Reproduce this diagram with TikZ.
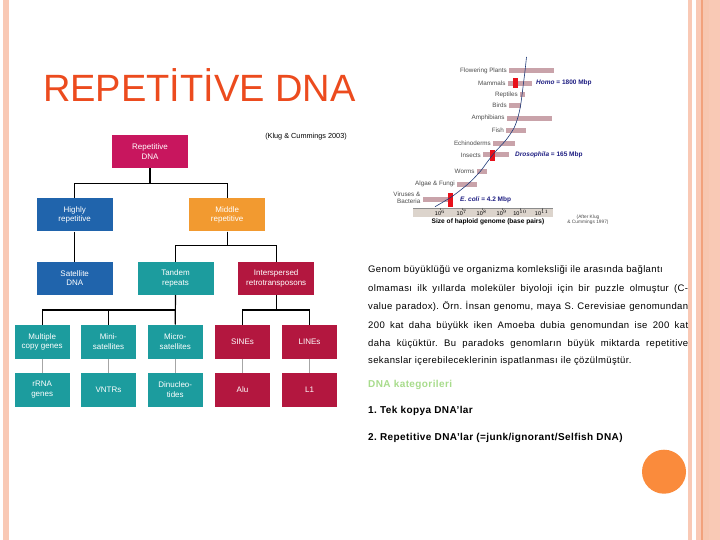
\documentclass[tikz,border=0pt]{standalone}
\usepackage{fontspec}
\setmainfont{Liberation Sans}
\newfontfamily\bodyfont[LetterSpace=4]{Liberation Sans}
\usetikzlibrary{positioning}
\frenchspacing

\definecolor{titleorange}{HTML}{EC4B1E}
\definecolor{repmag}{HTML}{C8165E}
\definecolor{hiblue}{HTML}{2064AC}
\definecolor{midorange}{HTML}{F29A30}
\definecolor{tealc}{HTML}{1C9C9E}
\definecolor{crimson}{HTML}{B3173F}
\definecolor{barpink}{HTML}{C9A3AA}
\definecolor{markred}{HTML}{E8101A}
\definecolor{curveblue}{HTML}{1E3A78}
\definecolor{navytext}{HTML}{1E1E82}
\definecolor{axisband}{HTML}{DCD4CC}
\definecolor{kategreen}{HTML}{A8DC8C}
\definecolor{peach}{HTML}{F9C9B5}
\definecolor{peachdark}{HTML}{F2A27C}
\definecolor{circorange}{HTML}{FA8B3C}

\tikzset{
  dnabox/.style={text=white, minimum width=76pt, minimum height=33pt, align=center,
    inner sep=1pt, font=\fontsize{8}{9.5}\selectfont},
  smallbox/.style={dnabox, minimum width=55pt, minimum height=34pt},
  tree/.style={line width=1.2pt, black},
  leaf/.style={line width=0.8pt, black!35},
  chartlbl/.style={anchor=east, inner sep=0.5pt, text=black!70,
    font=\fontsize{6.3}{6.8}\selectfont},
  species/.style={anchor=west, inner sep=0pt, text=navytext,
    font=\bfseries\fontsize{6.5}{7}\selectfont},
  bodyline/.style={anchor=base west, inner sep=0pt, font=\bodyfont\fontsize{9.5}{10}\selectfont},
  katline/.style={anchor=base west, inner sep=0pt, font=\bodyfont\bfseries\fontsize{10}{11}\selectfont},
}

\begin{document}
\begin{tikzpicture}[x=1pt, y=-1pt]
  \useasboundingbox (0,0) rectangle (720,540);
  \fill[white] (0,0) rectangle (720,540);

  % page border stripes
  \fill[peach] (3,0) rectangle (9,540);
  \fill[peach] (688,0) rectangle (692,540);
  \fill[peach] (696,0) rectangle (720,540);
  \fill[peachdark!60] (701,0) rectangle (709,540);
  \fill[peachdark] (701,0) rectangle (703,540);

  % title
  \node[anchor=base west, inner sep=0pt, text=titleorange,
    font=\fontsize{38}{42}\selectfont] (title) at (43,102) {REPETİTİVE DNA};

  % classification tree
  \node[dnabox, fill=repmag] (rep) at (150,151.5) {Repetitive\\DNA};
  \node[dnabox, fill=hiblue] (high) at (74.7,215) {Highly\\repetitive};
  \node[dnabox, fill=midorange] (mid) at (227.2,215) {Middle\\repetitive};
  \node[dnabox, fill=hiblue] (sat) at (74.7,278.3) {Satellite\\DNA};
  \node[dnabox, fill=tealc] (tand) at (175.5,278.3) {Tandem\\repeats};
  \node[dnabox, fill=crimson] (inter) at (276.2,278.3) {Interspersed\\retrotransposons};

  \node[smallbox, fill=tealc] (multi) at (42.2,341.7) {Multiple\\copy genes};
  \node[smallbox, fill=tealc] (mini) at (108.5,341.7) {Mini-\\satellites};
  \node[smallbox, fill=tealc] (micro) at (175.2,341.7) {Micro-\\satellites};
  \node[smallbox, fill=crimson] (sine) at (242.5,341.7) {SINEs};
  \node[smallbox, fill=crimson] (line) at (309.5,341.7) {LINEs};

  \node[smallbox, fill=tealc] (rrna) at (42.2,389.7) {rRNA\\genes};
  \node[smallbox, fill=tealc] (vntr) at (108.5,389.7) {VNTRs};
  \node[smallbox, fill=tealc] (dinuc) at (175.2,389.7) {Dinucleo-\\tides};
  \node[smallbox, fill=crimson] (alu) at (242.5,389.7) {Alu};
  \node[smallbox, fill=crimson] (lone) at (309.5,389.7) {L1};

  \draw[tree] (rep.south) -- ++(0,15) -| (high.north);
  \draw[tree] (rep.south) -- ++(0,15) -| (mid.north);
  \draw[tree] (high.south) -- (sat.north);
  \draw[tree] (mid.south) -- ++(0,14) -| (tand.north);
  \draw[tree] (mid.south) -- ++(0,14) -| (inter.north);
  \draw[tree] (tand.south) -- ++(0,15) -| (multi.north);
  \draw[tree] (tand.south) -- ++(0,15) -| (mini.north);
  \draw[tree] (tand.south) -- (micro.north);
  \draw[tree] (inter.south) -- ++(0,15) -| (sine.north);
  \draw[tree] (inter.south) -- ++(0,15) -| (line.north);

  \draw[leaf] (multi) -- (rrna);
  \draw[leaf] (mini) -- (vntr);
  \draw[leaf] (micro) -- (dinuc);
  \draw[leaf] (sine) -- (alu);
  \draw[leaf] (line) -- (lone);

  \node[anchor=east, inner sep=0pt, font=\fontsize{7.3}{8}\selectfont]
    (cite) at (347,137) {(Klug \& Cummings 2003)};

  % genome size chart
  \foreach \lab/\y/\xa/\xb in {Flowering Plants/71/509/554, Mammals/83.3/507.7/531.7,
      Reptiles/95/520/525, Birds/105.7/509/520.6, Amphibians/118.3/506.7/551.7,
      Fish/130.7/506/526, Echinoderms/143.3/493/515, Insects/155/483/509,
      Worms/171.7/476.7/486.7, Algae \& Fungi/184.3/457/476.7}{
    \fill[barpink] (\xa,\y-2.5) rectangle (\xb,\y+2.5);
    \node[chartlbl] at (\xa-1.5,\y) {\lab};
  }
  \fill[barpink] (422.7,197.2) rectangle (448.3,202.2);
  \node[chartlbl, align=right] (vir) at (421,198) {Viruses \&\\Bacteria};

  \fill[markred] (513,77.7) rectangle (518,88.3);
  \fill[markred] (490,150) rectangle (494.5,161);
  \fill[markred] (448.3,193) rectangle (452.7,206.7);

  \fill[axisband] (413,208) rectangle (553,216.7);
  \draw[black!45, line width=0.4pt] (413,208) -- (553,208);
  \foreach \x/\e in {440/6, 461.7/7, 481.7/8, 501.7/9, 520/10, 541.7/11}{
    \draw[black!60, line width=0.3pt] (\x,208) -- (\x,210);
    \node[inner sep=0pt, font=\fontsize{5.5}{5.5}\selectfont] at (\x,212.5) {10$^{\e}$};
  }
  \node[inner sep=0pt, font=\bfseries\fontsize{6.6}{7}\selectfont] (axtitle) at (488,222)
    {Size of haploid genome (base pairs)};

  \draw[curveblue, line width=0.6pt] plot[smooth] coordinates {(435,206.7) (451.7,196.7)
    (468,184) (480,171.7) (488,161) (495,152) (506,140) (514,128) (518,117) (520.5,106)
    (522,95) (523.5,83) (525,71) (526.5,57)};

  \node[species] (homo) at (536,82.5) {\textit{Homo} = 1800 Mbp};
  \node[species] (dros) at (515,155) {\textit{Drosophila} = 165 Mbp};
  \node[species] (ecoli) at (460,199.5) {\textit{E. coli} = 4.2 Mbp};
  \node[inner sep=0pt, align=center, text=black!70, font=\fontsize{4.8}{5.5}\selectfont]
    (after) at (588,220) {(After Klug\\\& Cummings 1997)};

  % text block
  \node[bodyline] (l1) at (368,272) {Genom büyüklüğü ve organizma komleksliği ile arasında bağlantı};
  \node[bodyline] (l2) at (368,291) {\makebox[320pt][s]{olmaması ilk yıllarda moleküler biyoloji için bir puzzle olmuştur (C-}};
  \node[bodyline] (l3) at (368,309.5) {\makebox[320pt][s]{value paradox). Örn. İnsan genomu, maya S. Cerevisiae genomundan}};
  \node[bodyline] (l4) at (368,328) {\makebox[320pt][s]{200 kat daha büyükk iken Amoeba dubia genomundan ise 200 kat}};
  \node[bodyline] (l5) at (368,346.5) {\makebox[320pt][s]{daha küçüktür. Bu paradoks genomların büyük miktarda repetitive}};
  \node[bodyline] (l6) at (368,363) {sekanslar içerebileceklerinin ispatlanması ile çözülmüştür.};

  \node[katline, text=kategreen] (kat) at (368,387) {DNA kategorileri};
  \node[katline] (k1) at (368,413.5) {1. Tek kopya DNA’lar};
  \node[katline] (k2) at (368,440) {2. Repetitive DNA’lar (=junk/ignorant/Selfish DNA)};

  % decoration
  \fill[circorange] (664,471.7) circle (22);
\end{tikzpicture}
\end{document}
